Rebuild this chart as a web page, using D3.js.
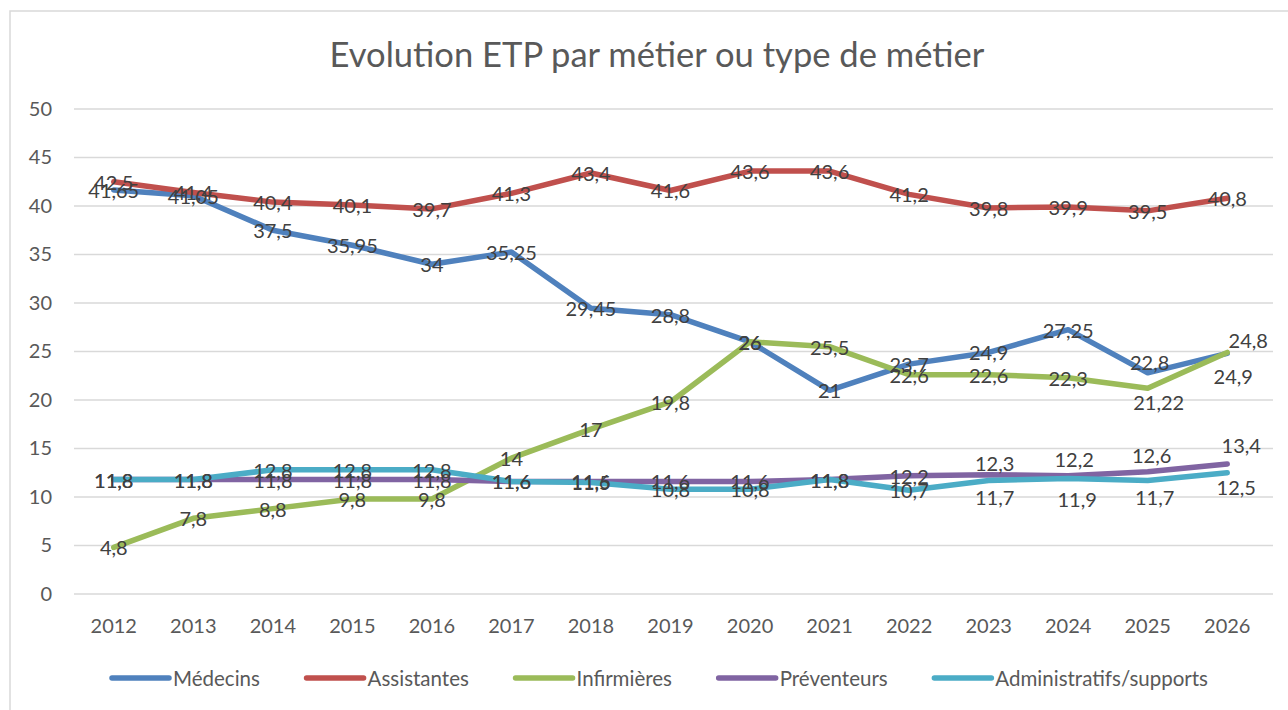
<!DOCTYPE html>
<html><head><meta charset="utf-8">
<script src="https://cdn.jsdelivr.net/npm/d3@7"></script>
<style>body{margin:0;background:#fff;}svg{display:block;font-family:Lato,"Open Sans",sans-serif;}</style>
</head><body>
<svg id="c" width="1288" height="710"></svg>
<script>
const title = "Evolution ETP par métier ou type de métier";
const years = ["2012","2013","2014","2015","2016","2017","2018","2019","2020","2021","2022","2023","2024","2025","2026"];
const yTicks = [0,5,10,15,20,25,30,35,40,45,50];
const seriesNames = ["Médecins","Assistantes","Infirmières","Préventeurs","Administratifs/supports"];
const medecins = [41.65,41.05,37.5,35.95,34,35.25,29.45,28.8,26,21,23.7,24.9,27.25,22.8,24.8];
const assistantes = [42.5,41.4,40.4,40.1,39.7,41.3,43.4,41.6,43.6,43.6,41.2,39.8,39.9,39.5,40.8];
const infirmieres = [4.8,7.8,8.8,9.8,9.8,14,17,19.8,26,25.5,22.6,22.6,22.3,21.22,24.9];
const preventeurs = [11.8,11.8,11.8,11.8,11.8,11.6,11.6,11.6,11.6,11.8,12.2,12.3,12.2,12.6,13.4];
const administratifs = [11.8,11.8,12.8,12.8,12.8,11.6,11.5,10.8,10.8,11.8,10.7,11.7,11.9,11.7,12.5];
const colors = ["#4F81BD","#C0504D","#9BBB59","#8064A2","#4BACC6"];

// label nudges (style only): index -> [dx, dy]
const labelNudges = [
  {13:[2,-11],14:[21,-13]},
  {},
  {13:[11,14],14:[6,24]},
  {11:[6,-12],12:[6,-17],13:[4,-17],14:[14,-19]},
  {11:[6,16],12:[9,20],13:[7,16],14:[9,14]}
];

const seriesData = [medecins, assistantes, infirmieres, preventeurs, administratifs];

(function(){
const svg = d3.select("#c");
const pLeft = 74, pRight = 1267, pTop = 109, pBottom = 594;

svg.append("rect").attr("x",10).attr("y",11).attr("width",1300).attr("height",720)
  .attr("fill","#fff").attr("stroke","#d9d9d9").attr("stroke-width",1.5);

const x = d3.scaleBand().domain(years).range([pLeft,pRight]);
const y = d3.scaleLinear().domain([0,50]).range([pBottom,pTop]);
const cx = d => x(d) + x.bandwidth()/2;

// gridlines
svg.append("g").selectAll("line").data(yTicks).join("line")
  .attr("x1",pLeft).attr("x2",pRight+6)
  .attr("y1",d=>y(d)).attr("y2",d=>y(d))
  .attr("stroke","#d9d9d9").attr("stroke-width",1.5);

// y axis labels
const yAxis = d3.axisLeft(y).tickValues(yTicks).tickSize(0).tickPadding(0).tickFormat(d3.format("d"));
const gy = svg.append("g").attr("transform",`translate(52,0)`).call(yAxis);
gy.select(".domain").remove();
gy.selectAll("text").attr("fill","#595959").style("font-size","20px").style("font-family","Lato");

// x axis labels
const xAxis = d3.axisBottom(x).tickSize(0).tickPadding(0);
const gx = svg.append("g").attr("transform",`translate(0,619)`).call(xAxis);
gx.select(".domain").remove();
gx.selectAll("text").attr("fill","#595959").style("font-size","20px").style("font-family","Lato");

// title
const t = svg.append("text").attr("x",657).attr("y",67).attr("text-anchor","middle")
  .attr("fill","#595959").style("font-size","31px").text(title);
const tw = t.node().getComputedTextLength();
t.style("font-size", (31*655/tw).toFixed(2)+"px");

// lines
const line = d3.line().x((d,i)=>cx(years[i])).y(d=>y(d));
seriesData.forEach((s,k)=>{
  svg.append("path").datum(s).attr("d",line).attr("fill","none")
    .attr("stroke",colors[k]).attr("stroke-width",5.5).attr("stroke-linejoin","round").attr("stroke-linecap","round");
});

// labels
const fmt = v => String(v).replace(".",",");
seriesData.forEach((s,k)=>{
  svg.append("g").selectAll("text").data(s).join("text")
    .attr("x",(d,i)=>cx(years[i]) + ((labelNudges[k][i]||[0,0])[0]))
    .attr("y",(d,i)=>y(d) + ((labelNudges[k][i]||[0,0])[1]))
    .attr("text-anchor","middle").attr("dominant-baseline","central")
    .attr("fill","#404040").style("font-size","20px")
    .text(d=>fmt(d));
});

// legend
const lg = svg.append("g");
const items = [];
seriesNames.forEach((n,k)=>{
  const g = lg.append("g");
  g.append("line").attr("x1",0).attr("x2",57).attr("y1",0).attr("y2",0)
    .attr("stroke",colors[k]).attr("stroke-width",5.5).attr("stroke-linecap","round");
  const tx = g.append("text").attr("x",61).attr("y",0).attr("dominant-baseline","central")
    .attr("fill","#595959").style("font-size","20.5px").text(n);
  const w = 61 + tx.node().getComputedTextLength();
  items.push({g,w});
});
const legStart = 112, legEnd = 1208;
const gap = (legEnd - legStart - d3.sum(items,d=>d.w)) / (items.length-1);
let sx = legStart;
items.forEach(it=>{ it.g.attr("transform",`translate(${sx},678)`); sx += it.w + gap; });
})();
</script>
</body></html>
